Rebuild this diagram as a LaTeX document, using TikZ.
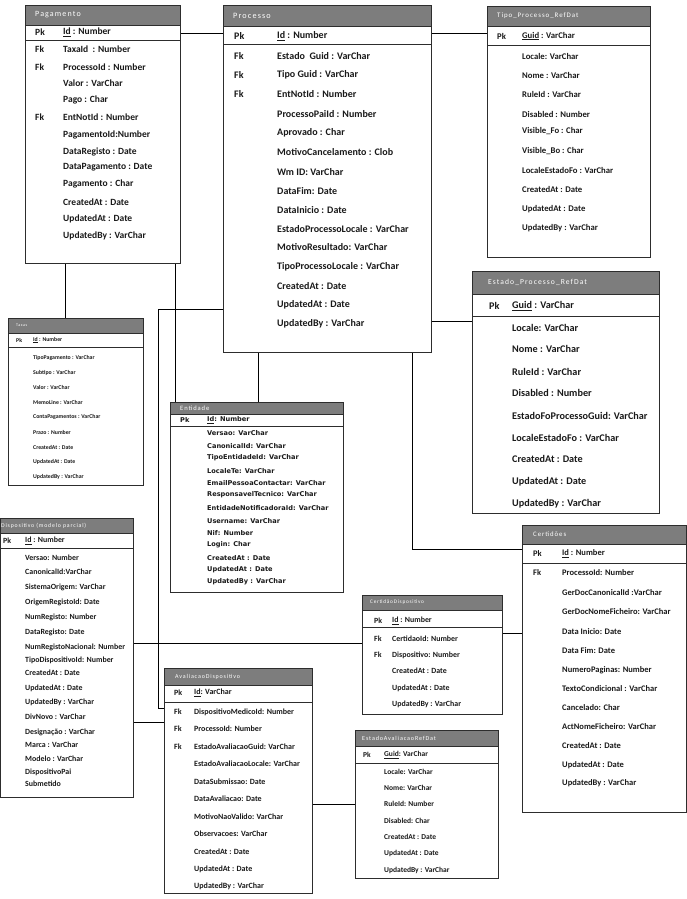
\documentclass[tikz,border=0pt]{standalone}
\usepackage{fontspec}
\setmainfont{Carlito}
\newfontfamily\ttlfont[LetterSpace=14]{Carlito}
\newfontfamily\entfont{DejaVu Sans}

\definecolor{hdrgray}{RGB}{125,125,125}
\definecolor{boxline}{RGB}{45,45,45}

\tikzset{
	tbl/.style={draw=boxline, line width=1.1pt, anchor=north west, inner sep=0pt},
	hdr/.style={fill=hdrgray, anchor=north west, inner sep=0pt},
	pkrow/.style={draw=boxline, line width=1.1pt, anchor=north west, inner sep=0pt},
	ttl/.style={anchor=west, inner sep=0pt, text=white},
	fld/.style={anchor=west, inner sep=0pt, text=black!90},
	wire/.style={line width=0.9pt, black},
	pagtx/.style={fld, font=\fontsize{9.5}{11}\selectfont\bfseries},
	protx/.style={fld, font=\fontsize{10}{12}\selectfont\bfseries},
	tiptx/.style={fld, font=\fontsize{8.7}{10}\selectfont\bfseries},
	taxtx/.style={fld, font=\fontsize{5.8}{7}\selectfont\bfseries},
	enttx/.style={fld, font=\entfont\fontsize{6.6}{8}\selectfont\bfseries},
	esttx/.style={fld, font=\fontsize{10.2}{12}\selectfont\bfseries},
	distx/.style={fld, font=\fontsize{7.9}{9}\selectfont\bfseries},
	certx/.style={fld, font=\fontsize{8.5}{10}\selectfont\bfseries},
	cdtx/.style={fld, font=\fontsize{7.9}{9}\selectfont\bfseries},
	avatx/.style={fld, font=\fontsize{8}{9}\selectfont\bfseries},
	eavtx/.style={fld, font=\fontsize{7.5}{9}\selectfont\bfseries},
}

\begin{document}
\begin{tikzpicture}[x=1pt, y=-1pt]
	\useasboundingbox (0,0) rectangle (687,899);

	% Pagamento
	\node[hdr, minimum width=155pt, minimum height=20pt] (pagHdr) at (25,5) {};
	\node[pkrow, minimum width=155pt, minimum height=15pt] (pagPk) at (25,25) {};
	\node[tbl, minimum width=155pt, minimum height=258pt] (pagamento) at (25,5) {};
	\node[ttl, font=\ttlfont\fontsize{8}{9}\selectfont] (pagTtl) at (35,15) {Pagamento};
	\node[pagtx] (pagK0) at (35,32) {Pk};
	\node[pagtx] (pagK1) at (35,49) {Fk};
	\node[pagtx] (pagK2) at (35,67) {Fk};
	\node[pagtx] (pagK5) at (35,117) {Fk};
	\node[pagtx] (pag0) at (63,32) {\underline{Id} : Number};
	\node[pagtx] (pag1) at (63,49) {TaxaId\ \ : Number};
	\node[pagtx] (pag2) at (63,67) {ProcessoId : Number};
	\node[pagtx] (pag3) at (63,83) {Valor : VarChar};
	\node[pagtx] (pag4) at (63,100) {Pago : Char};
	\node[pagtx] (pag5) at (63,117) {EntNotId : Number};
	\node[pagtx] (pag6) at (63,135) {PagamentoId:Number};
	\node[pagtx] (pag7) at (63,152) {DataRegisto : Date};
	\node[pagtx] (pag8) at (63,167) {DataPagamento : Date};
	\node[pagtx] (pag9) at (63,184) {Pagamento : Char};
	\node[pagtx] (pag10) at (63,202) {CreatedAt : Date};
	\node[pagtx] (pag11) at (63,219) {UpdatedAt : Date};
	\node[pagtx] (pag12) at (63,236) {UpdatedBy : VarChar};

	% Processo
	\node[hdr, minimum width=208pt, minimum height=21pt] (proHdr) at (223,5) {};
	\node[pkrow, minimum width=208pt, minimum height=18pt] (proPk) at (223,26) {};
	\node[tbl, minimum width=208pt, minimum height=347pt] (processo) at (223,5) {};
	\node[ttl, font=\ttlfont\fontsize{8.2}{9}\selectfont] (proTtl) at (233,15.5) {Processo};
	\node[protx] (proK0) at (234,36) {Pk};
	\node[protx] (proK1) at (234,56) {Fk};
	\node[protx] (proK2) at (234,75) {Fk};
	\node[protx] (proK3) at (234,94) {Fk};
	\node[protx] (pro0) at (277,36) {\underline{Id} : Number};
	\node[protx] (pro1) at (277,56) {Estado\ \ Guid : VarChar};
	\node[protx] (pro2) at (277,75) {Tipo Guid : VarChar};
	\node[protx] (pro3) at (277,94) {EntNotId : Number};
	\node[protx] (pro4) at (277,114) {ProcessoPaiId : Number};
	\node[protx] (pro5) at (277,133) {Aprovado : Char};
	\node[protx] (pro6) at (277,152) {MotivoCancelamento : Clob};
	\node[protx] (pro7) at (277,172) {Wm ID: VarChar};
	\node[protx] (pro8) at (277,191) {DataFim: Date};
	\node[protx] (pro9) at (277,210) {DataInicio : Date};
	\node[protx] (pro10) at (277,229) {EstadoProcessoLocale : VarChar};
	\node[protx] (pro11) at (277,247) {MotivoResultado: VarChar};
	\node[protx] (pro12) at (277,267) {TipoProcessoLocale : VarChar};
	\node[protx] (pro13) at (277,286) {CreatedAt : Date};
	\node[protx] (pro14) at (277,305) {UpdatedAt : Date};
	\node[protx] (pro15) at (277,324) {UpdatedBy : VarChar};

	% Tipo_Processo_RefDat
	\node[hdr, minimum width=163pt, minimum height=20pt] (tipHdr) at (487,6) {};
	\node[pkrow, minimum width=163pt, minimum height=19pt] (tipPk) at (487,26) {};
	\node[tbl, minimum width=163pt, minimum height=251pt] (tipo) at (487,6) {};
	\node[ttl, font=\ttlfont\fontsize{6.9}{8}\selectfont] (tipTtl) at (497,16) {Tipo\_Processo\_RefDat};
	\node[tiptx] (tipK0) at (497,36) {Pk};
	\node[tiptx] (tip0) at (522,36) {\underline{Guid} : VarChar};
	\node[tiptx] (tip1) at (522,56) {Locale: VarChar};
	\node[tiptx] (tip2) at (522,75) {Nome : VarChar};
	\node[tiptx] (tip3) at (522,94) {RuleId : VarChar};
	\node[tiptx] (tip4) at (522,114) {Disabled : Number};
	\node[tiptx] (tip5) at (522,131) {Visible\_Fo : Char};
	\node[tiptx] (tip6) at (522,151) {Visible\_Bo : Char};
	\node[tiptx] (tip7) at (522,170) {LocaleEstadoFo : VarChar};
	\node[tiptx] (tip8) at (522,189) {CreatedAt : Date};
	\node[tiptx] (tip9) at (522,209) {UpdatedAt : Date};
	\node[tiptx] (tip10) at (522,228) {UpdatedBy : VarChar};

	% Taxas
	\node[hdr, minimum width=135pt, minimum height=15pt] (taxHdr) at (8,318) {};
	\node[pkrow, minimum width=135pt, minimum height=14pt] (taxPk) at (8,333) {};
	\node[tbl, minimum width=135pt, minimum height=167pt] (taxas) at (8,318) {};
	\node[ttl, font=\ttlfont\fontsize{4}{5}\selectfont] (taxTtl) at (16,325.5) {Taxas};
	\node[taxtx] (taxK0) at (16,340) {Pk};
	\node[taxtx] (tax0) at (33,340) {\underline{Id} : Number};
	\node[taxtx] (tax1) at (33,358) {TipoPagamento : VarChar};
	\node[taxtx] (tax2) at (33,373) {Subtipo : VarChar};
	\node[taxtx] (tax3) at (33,387) {Valor : VarChar};
	\node[taxtx] (tax4) at (33,402) {MemoLine : VarChar};
	\node[taxtx] (tax5) at (33,417) {ContaPagamentos : VarChar};
	\node[taxtx] (tax6) at (33,432) {Prazo : Number};
	\node[taxtx] (tax7) at (33,447) {CreatedAt : Date};
	\node[taxtx] (tax8) at (33,462) {UpdatedAt : Date};
	\node[taxtx] (tax9) at (33,477) {UpdatedBy : VarChar};

	% Entidade
	\node[hdr, minimum width=173pt, minimum height=12pt] (entHdr) at (170,402) {};
	\node[pkrow, minimum width=173pt, minimum height=12pt] (entPk) at (170,414) {};
	\node[tbl, minimum width=173pt, minimum height=190pt] (entidade) at (170,402) {};
	\node[ttl, font=\ttlfont\fontsize{6.6}{8}\selectfont] (entTtl) at (180,408) {Entidade};
	\node[enttx] (entK0) at (180,420) {Pk};
	\node[enttx] (ent0) at (207,420) {\underline{Id}: Number};
	\node[enttx] (ent1) at (207,433) {Versao: VarChar};
	\node[enttx] (ent2) at (207,446) {CanonicalId: VarChar};
	\node[enttx] (ent3) at (207,458) {TipoEntidadeId: VarChar};
	\node[enttx] (ent4) at (207,471) {LocaleTe: VarChar};
	\node[enttx] (ent5) at (207,483) {EmailPessoaContactar: VarChar};
	\node[enttx] (ent6) at (207,495) {ResponsavelTecnico: VarChar};
	\node[enttx] (ent7) at (207,508) {EntidadeNotificadoraId: VarChar};
	\node[enttx] (ent8) at (207,521) {Username: VarChar};
	\node[enttx] (ent9) at (207,533) {Nif: Number};
	\node[enttx] (ent10) at (207,545) {Login: Char};
	\node[enttx] (ent11) at (207,558) {CreatedAt : Date};
	\node[enttx] (ent12) at (207,570) {UpdatedAt : Date};
	\node[enttx] (ent13) at (207,582) {UpdatedBy : VarChar};

	% Estado_Processo_RefDat
	\node[hdr, minimum width=187pt, minimum height=23pt] (estHdr) at (472,271) {};
	\node[pkrow, minimum width=187pt, minimum height=22pt] (estPk) at (472,294) {};
	\node[tbl, minimum width=187pt, minimum height=242pt] (estado) at (472,271) {};
	\node[ttl, font=\ttlfont\fontsize{7.6}{9}\selectfont] (estTtl) at (488,282.5) {Estado\_Processo\_RefDat};
	\node[esttx] (estK0) at (489,306) {Pk};
	\node[esttx] (est0) at (512,306) {\underline{Guid} : VarChar};
	\node[esttx] (est1) at (512,328) {Locale: VarChar};
	\node[esttx] (est2) at (512,349) {Nome : VarChar};
	\node[esttx] (est3) at (512,372) {RuleId : VarChar};
	\node[esttx] (est4) at (512,393) {Disabled : Number};
	\node[esttx] (est5) at (512,416) {EstadoFoProcessoGuid: VarChar};
	\node[esttx] (est6) at (512,438) {LocaleEstadoFo : VarChar};
	\node[esttx] (est7) at (512,459) {CreatedAt : Date};
	\node[esttx] (est8) at (512,482) {UpdatedAt : Date};
	\node[esttx] (est9) at (512,504) {UpdatedBy : VarChar};

	% Dispositivo (modelo parcial)
	\node[hdr, minimum width=133pt, minimum height=15pt] (disHdr) at (0,518) {};
	\node[pkrow, minimum width=133pt, minimum height=15pt] (disPk) at (0,533) {};
	\node[tbl, minimum width=133pt, minimum height=279pt] (dispositivo) at (0,518) {};
	\node[ttl, font=\ttlfont\fontsize{5.8}{7}\selectfont] (disTtl) at (1,525.5) {Dispositivo (modelo parcial)};
	\node[distx] (disK0) at (3,541) {Pk};
	\node[distx] (dis0) at (25,541) {\underline{Id} : Number};
	\node[distx] (dis1) at (25,558) {Versao: Number};
	\node[distx] (dis2) at (25,572) {CanonicalId:VarChar};
	\node[distx] (dis3) at (25,587) {SistemaOrigem: VarChar};
	\node[distx] (dis4) at (25,602) {OrigemRegistoId: Date};
	\node[distx] (dis5) at (25,617) {NumRegisto: Number};
	\node[distx] (dis6) at (25,632) {DataRegisto: Date};
	\node[distx] (dis7) at (25,647) {NumRegistoNacional: Number};
	\node[distx] (dis8) at (25,660) {TipoDispositivoId: Number};
	\node[distx] (dis9) at (25,673) {CreatedAt : Date};
	\node[distx] (dis10) at (25,688) {UpdatedAt : Date};
	\node[distx] (dis11) at (25,702) {UpdatedBy : VarChar};
	\node[distx] (dis12) at (25,717) {DivNovo : VarChar};
	\node[distx] (dis13) at (25,732) {Designação : VarChar};
	\node[distx] (dis14) at (25,745) {Marca : VarChar};
	\node[distx] (dis15) at (25,759) {Modelo : VarChar};
	\node[distx] (dis16) at (25,772) {DispositivoPai};
	\node[distx] (dis17) at (25,784) {Submetido};

	% Certidões
	\node[hdr, minimum width=164pt, minimum height=19pt] (cerHdr) at (522,525) {};
	\node[pkrow, minimum width=164pt, minimum height=19pt] (cerPk) at (522,544) {};
	\node[tbl, minimum width=164pt, minimum height=287pt] (certidoes) at (522,525) {};
	\node[ttl, font=\ttlfont\fontsize{6.8}{8}\selectfont] (cerTtl) at (533,534.5) {Certidões};
	\node[certx] (cerK0) at (533,554) {Pk};
	\node[certx] (cerK1) at (533,573) {Fk};
	\node[certx] (cer0) at (562,554) {\underline{Id} : Number};
	\node[certx] (cer1) at (562,573) {ProcessoId: Number};
	\node[certx] (cer2) at (562,593) {GerDocCanonicalId :VarChar};
	\node[certx] (cer3) at (562,612) {GerDocNomeFicheiro: VarChar};
	\node[certx] (cer4) at (562,632) {Data Inicio: Date};
	\node[certx] (cer5) at (562,651) {Data Fim: Date};
	\node[certx] (cer6) at (562,670) {NumeroPaginas: Number};
	\node[certx] (cer7) at (562,689) {TextoCondicional : VarChar};
	\node[certx] (cer8) at (562,708) {Cancelado: Char};
	\node[certx] (cer9) at (562,727) {ActNomeFicheiro: VarChar};
	\node[certx] (cer10) at (562,746) {CreatedAt : Date};
	\node[certx] (cer11) at (562,765) {UpdatedAt : Date};
	\node[certx] (cer12) at (562,783) {UpdatedBy : VarChar};

	% CertidãoDispositivo
	\node[hdr, minimum width=140pt, minimum height=15pt] (cdHdr) at (362,595) {};
	\node[pkrow, minimum width=140pt, minimum height=17pt] (cdPk) at (362,610) {};
	\node[tbl, minimum width=140pt, minimum height=119pt] (certdisp) at (362,595) {};
	\node[ttl, font=\ttlfont\fontsize{5.3}{6}\selectfont] (cdTtl) at (370,602.5) {CertidãoDispositivo};
	\node[cdtx] (cdK0) at (374,621) {Pk};
	\node[cdtx] (cdK1) at (374,639) {Fk};
	\node[cdtx] (cdK2) at (374,655) {Fk};
	\node[cdtx] (cd0) at (392,621) {\underline{Id} : Number};
	\node[cdtx] (cd1) at (392,639) {CertidaoId: Number};
	\node[cdtx] (cd2) at (392,655) {Dispositivo: Number};
	\node[cdtx] (cd3) at (392,671) {CreatedAt : Date};
	\node[cdtx] (cd4) at (392,688) {UpdatedAt : Date};
	\node[cdtx] (cd5) at (392,704) {UpdatedBy : VarChar};

	% AvaliacaoDispositivo
	\node[hdr, minimum width=148pt, minimum height=17pt] (avaHdr) at (164,668) {};
	\node[pkrow, minimum width=148pt, minimum height=17pt] (avaPk) at (164,685) {};
	\node[tbl, minimum width=148pt, minimum height=225pt] (avaliacao) at (164,668) {};
	\node[ttl, font=\ttlfont\fontsize{6}{7}\selectfont] (avaTtl) at (175,676.5) {AvaliacaoDispositivo};
	\node[avatx] (avaK0) at (174,693) {Pk};
	\node[avatx] (avaK1) at (174,712) {Fk};
	\node[avatx] (avaK2) at (174,729) {Fk};
	\node[avatx] (avaK3) at (174,747) {Fk};
	\node[avatx] (ava0) at (194,693) {\underline{Id}: VarChar};
	\node[avatx] (ava1) at (194,712) {DispositivoMedicoId: Number};
	\node[avatx] (ava2) at (194,729) {ProcessoId: Number};
	\node[avatx] (ava3) at (194,747) {EstadoAvaliacaoGuid: VarChar};
	\node[avatx] (ava4) at (194,764) {EstadoAvaliacaoLocale: VarChar};
	\node[avatx] (ava5) at (194,782) {DataSubmissao: Date};
	\node[avatx] (ava6) at (194,799) {DataAvaliacao: Date};
	\node[avatx] (ava7) at (194,817) {MotivoNaoValido: VarChar};
	\node[avatx] (ava8) at (194,834) {Observacoes: VarChar};
	\node[avatx] (ava9) at (194,852) {CreatedAt : Date};
	\node[avatx] (ava10) at (194,869) {UpdatedAt : Date};
	\node[avatx] (ava11) at (194,886) {UpdatedBy : VarChar};

	% EstadoAvaliacaoRefDat
	\node[hdr, minimum width=143pt, minimum height=16pt] (eavHdr) at (355,730) {};
	\node[pkrow, minimum width=143pt, minimum height=17pt] (eavPk) at (355,746) {};
	\node[tbl, minimum width=143pt, minimum height=148pt] (estaval) at (355,730) {};
	\node[ttl, font=\ttlfont\fontsize{6.1}{7}\selectfont] (eavTtl) at (362,738) {EstadoAvaliacaoRefDat};
	\node[eavtx] (eavK0) at (363,755) {Pk};
	\node[eavtx] (eav0) at (384,755) {\underline{Guid}: VarChar};
	\node[eavtx] (eav1) at (384,772) {Locale: VarChar};
	\node[eavtx] (eav2) at (384,788) {Nome: VarChar};
	\node[eavtx] (eav3) at (384,804) {RuleId: Number};
	\node[eavtx] (eav4) at (384,821) {Disabled: Char};
	\node[eavtx] (eav5) at (384,837) {CreatedAt : Date};
	\node[eavtx] (eav6) at (384,853) {UpdatedAt : Date};
	\node[eavtx] (eav7) at (384,870) {UpdatedBy : VarChar};

	% Relations
	\coordinate (j1) at (0,33);
	\coordinate (j3) at (65,0);
	\coordinate (j4) at (175,0);
	\coordinate (j5) at (258,0);
	\coordinate (j6) at (0,321);
	\coordinate (j7) at (412,549);
	\coordinate (j8) at (158,309);
	\coordinate (j8b) at (0,708);
	\coordinate (j9) at (0,643);
	\coordinate (j10) at (0,722);
	\coordinate (j11) at (0,633);
	\coordinate (j12) at (0,804);
	\draw[wire] (pagamento.east |- j1) -- (processo.west |- j1);
	\draw[wire] (processo.east |- j1) -- (tipo.west |- j1);
	\draw[wire] (pagamento.south -| j3) -- (taxas.north -| j3);
	\draw[wire] (pagamento.south -| j4) -- (entidade.north -| j4);
	\draw[wire] (processo.south -| j5) -- (entidade.north -| j5);
	\draw[wire] (processo.east |- j6) -- (estado.west |- j6);
	\draw[wire] (processo.south -| j7) |- (certidoes.west |- j7);
	\draw[wire] (processo.west |- j8) -- (j8) |- (avaliacao.west |- j8b);
	\draw[wire] (dispositivo.east |- j9) -- (certdisp.west |- j9);
	\draw[wire] (dispositivo.east |- j10) -- (avaliacao.west |- j10);
	\draw[wire] (certdisp.east |- j11) -- (certidoes.west |- j11);
	\draw[wire] (avaliacao.east |- j12) -- (estaval.west |- j12);
\end{tikzpicture}
\end{document}
